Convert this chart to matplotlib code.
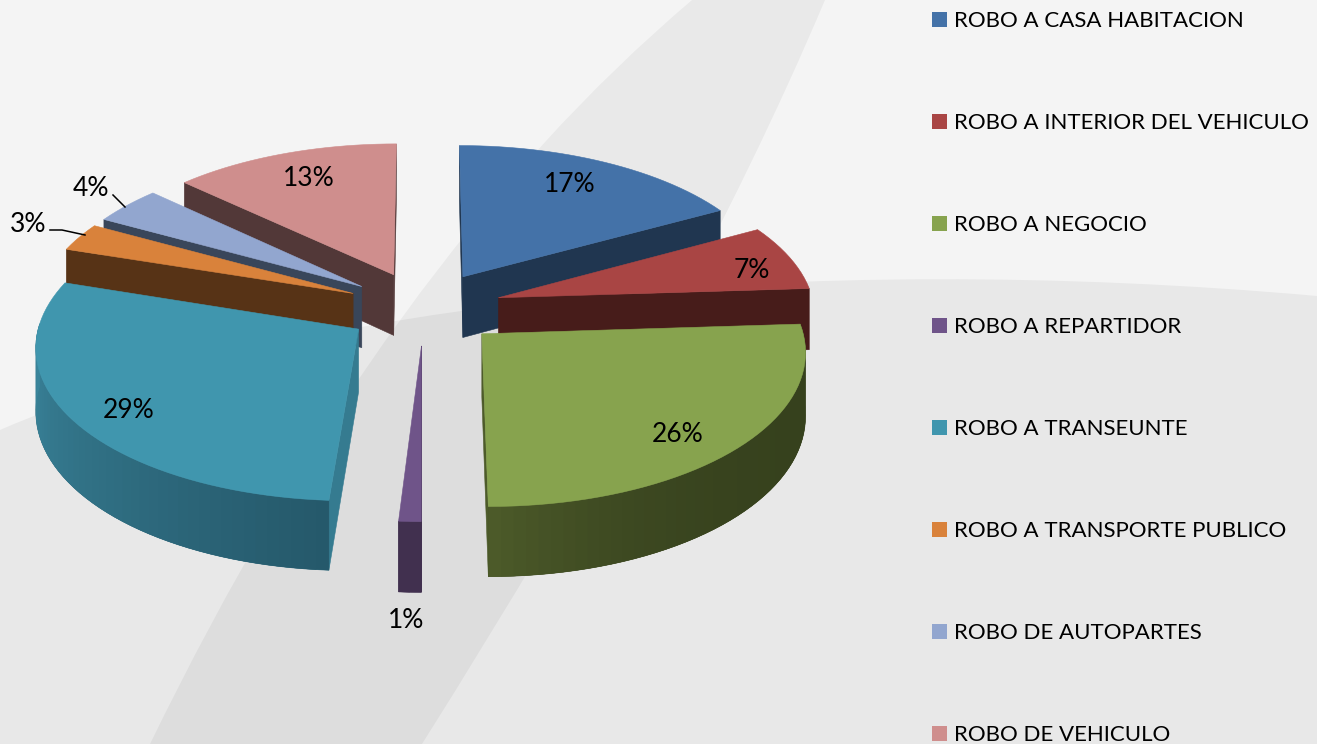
#!/usr/bin/env python3
"""Exploded 3D pie of robbery types, drawn with a small perspective projection."""

import numpy as np
import matplotlib
matplotlib.use("Agg")
import matplotlib.pyplot as plt
from matplotlib.patches import Patch, Polygon, PathPatch
from matplotlib.path import Path

categories = [
    "ROBO A CASA HABITACION",
    "ROBO A INTERIOR DEL VEHICULO",
    "ROBO A NEGOCIO",
    "ROBO A REPARTIDOR",
    "ROBO A TRANSEUNTE",
    "ROBO A TRANSPORTE PUBLICO",
    "ROBO DE AUTOPARTES",
    "ROBO DE VEHICULO",
]
values = [17, 7, 26, 1, 29, 3, 4, 13]

top_colors = ["#4472a8", "#a94544", "#87a34e", "#6f5489", "#4096ae", "#d9823b", "#92a6cf", "#cf8e8d"]
side_colors = ["#203650", "#471c1a", "#4d5b2a", "#41304f", "#357b90", "#573316", "#39465a", "#523838"]
wall_start = ["#203650", "#471c1a", "#36411d", "#41304f", "#25586a", "#573316", "#39465a", "#523838"]
wall_end = ["#203650", "#471c1a", "#4d5b2a", "#41304f", "#3f8fa6", "#573316", "#39465a", "#523838"]
wall_power = [1, 1, 4, 1, 1, 1, 1, 1]

label_pos = [(570, 184), (752, 270), (678, 434), (406, 620), (129, 410), (28, 224), (91, 188), (309, 178)]

# projection settings, in pixels
CX, CY = 424, 308
RADIUS = 316
EXPLODE = 78
DEPTH = 62
SIN_T = 0.475
COS_T = 0.88
CAM = 2800


def project(x, y, z=0.0):
    s = CAM / (CAM + y * COS_T)
    return CX + x * s, CY - (y * SIN_T + z) * s


def fill(ax, pts, color, z, lw=0.4):
    ax.add_patch(Polygon(pts, closed=True, facecolor=color, edgecolor=color, linewidth=lw, zorder=z))


def mix(c1, c2, t):
    a, b = np.array(matplotlib.colors.to_rgb(c1)), np.array(matplotlib.colors.to_rgb(c2))
    return tuple(a + (b - a) * t)


def signed_area(pts):
    p = np.array(pts)
    return 0.5 * np.sum(p[:, 0] * np.roll(p[:, 1], -1) - np.roll(p[:, 0], -1) * p[:, 1])


def draw_wedge(ax, i, start, stop, z):
    mid = (start + stop) / 2
    ox, oy = EXPLODE * np.sin(mid), EXPLODE * np.cos(mid)
    theta = np.linspace(start, stop, max(int(np.degrees(stop - start) / 2), 2) + 1)
    xs, ys = ox + RADIUS * np.sin(theta), oy + RADIUS * np.cos(theta)

    tip_top = project(ox, oy)
    tip_low = project(ox, oy, -DEPTH)
    top_arc = [project(x, y) for x, y in zip(xs, ys)]
    low_arc = [project(x, y, -DEPTH) for x, y in zip(xs, ys)]

    # radial walls, only when they face the viewer (screen y points down)
    first = [tip_top, top_arc[0], low_arc[0], tip_low]
    last = [tip_top, tip_low, low_arc[-1], top_arc[-1]]
    for wall in (first, last):
        if signed_area(wall) < 0:
            fill(ax, wall, side_colors[i], z)

    # outer wall, front half only. Strips overlap the next one so no seams show
    front = [k for k in range(len(theta) - 1) if np.cos((theta[k] + theta[k + 1]) / 2) < 0.05]
    if front:
        base = top_arc[front[0]:front[-1] + 2] + low_arc[front[0]:front[-1] + 2][::-1]
        fill(ax, base, mix(wall_start[i], wall_end[i], 0.3), z + 0.05)
    for k in front:
        t = ((k + 0.5) / (len(theta) - 1)) ** wall_power[i]
        j = min(k + 2, front[-1] + 1)
        seg = [top_arc[k], top_arc[k + 1], top_arc[j], low_arc[j], low_arc[k + 1], low_arc[k]]
        fill(ax, seg, mix(wall_start[i], wall_end[i], t), z + 0.1 + 0.001 * k, lw=0)

    fill(ax, [tip_top] + top_arc, top_colors[i], z + 0.5)
    return mid


plt.rcParams["font.family"] = ["Lato", "DejaVu Sans"]
fig = plt.figure(figsize=(13.17, 7.44), dpi=100, facecolor="#f4f4f4")
ax = fig.add_axes([0, 0, 1, 1])
ax.set_xlim(0, 1317)
ax.set_ylim(744, 0)
ax.axis("off")

# background swooshes
low_verts = [(0, 430), (300, 300), (800, 250), (1317, 296), (1317, 744), (0, 744), (0, 430)]
low_codes = [Path.MOVETO, Path.CURVE4, Path.CURVE4, Path.CURVE4, Path.LINETO, Path.LINETO, Path.CLOSEPOLY]
ax.add_patch(PathPatch(Path(low_verts, low_codes), facecolor="#e8e8e8", edgecolor="none", zorder=0.1))
band_verts = [(692, 0), (385, 260), (150, 744), (422, 744), (690, 320), (825, 0), (692, 0)]
band_codes = [Path.MOVETO, Path.CURVE3, Path.CURVE3, Path.LINETO, Path.CURVE3, Path.CURVE3, Path.CLOSEPOLY]
ax.add_patch(PathPatch(Path(band_verts, band_codes), facecolor="#000000", alpha=0.045, edgecolor="none", zorder=0.2))

# painter's order: furthest wedge first
fractions = np.array(values) / sum(values)
edges = np.concatenate([[0], np.cumsum(fractions)]) * 2 * np.pi
mids = (edges[:-1] + edges[1:]) / 2
order = np.argsort(-np.cos(mids))
for rank, i in enumerate(order):
    draw_wedge(ax, i, edges[i], edges[i + 1], 1 + rank)

for value, (lx, ly) in zip(values, label_pos):
    ax.text(lx, ly, f"{value}%", ha="center", va="center", fontsize=19, color="black", zorder=20)

# leader lines for the two thin slices
ax.plot([50, 62, 85], [230, 230, 235], color="black", linewidth=1.1, zorder=20)
ax.plot([113, 125], [195, 207], color="black", linewidth=1.1, zorder=20)

handles = [Patch(facecolor=c, edgecolor="none") for c in top_colors]
ax.legend(handles, categories, loc="upper left", bbox_to_anchor=(932 / 1317, 1 - 11 / 744),
          frameon=False, fontsize=16.0, labelspacing=3.69, handlelength=0.68, handleheight=0.68,
          handletextpad=0.3, borderpad=0, borderaxespad=0)

fig.savefig("out.png", dpi=100)
